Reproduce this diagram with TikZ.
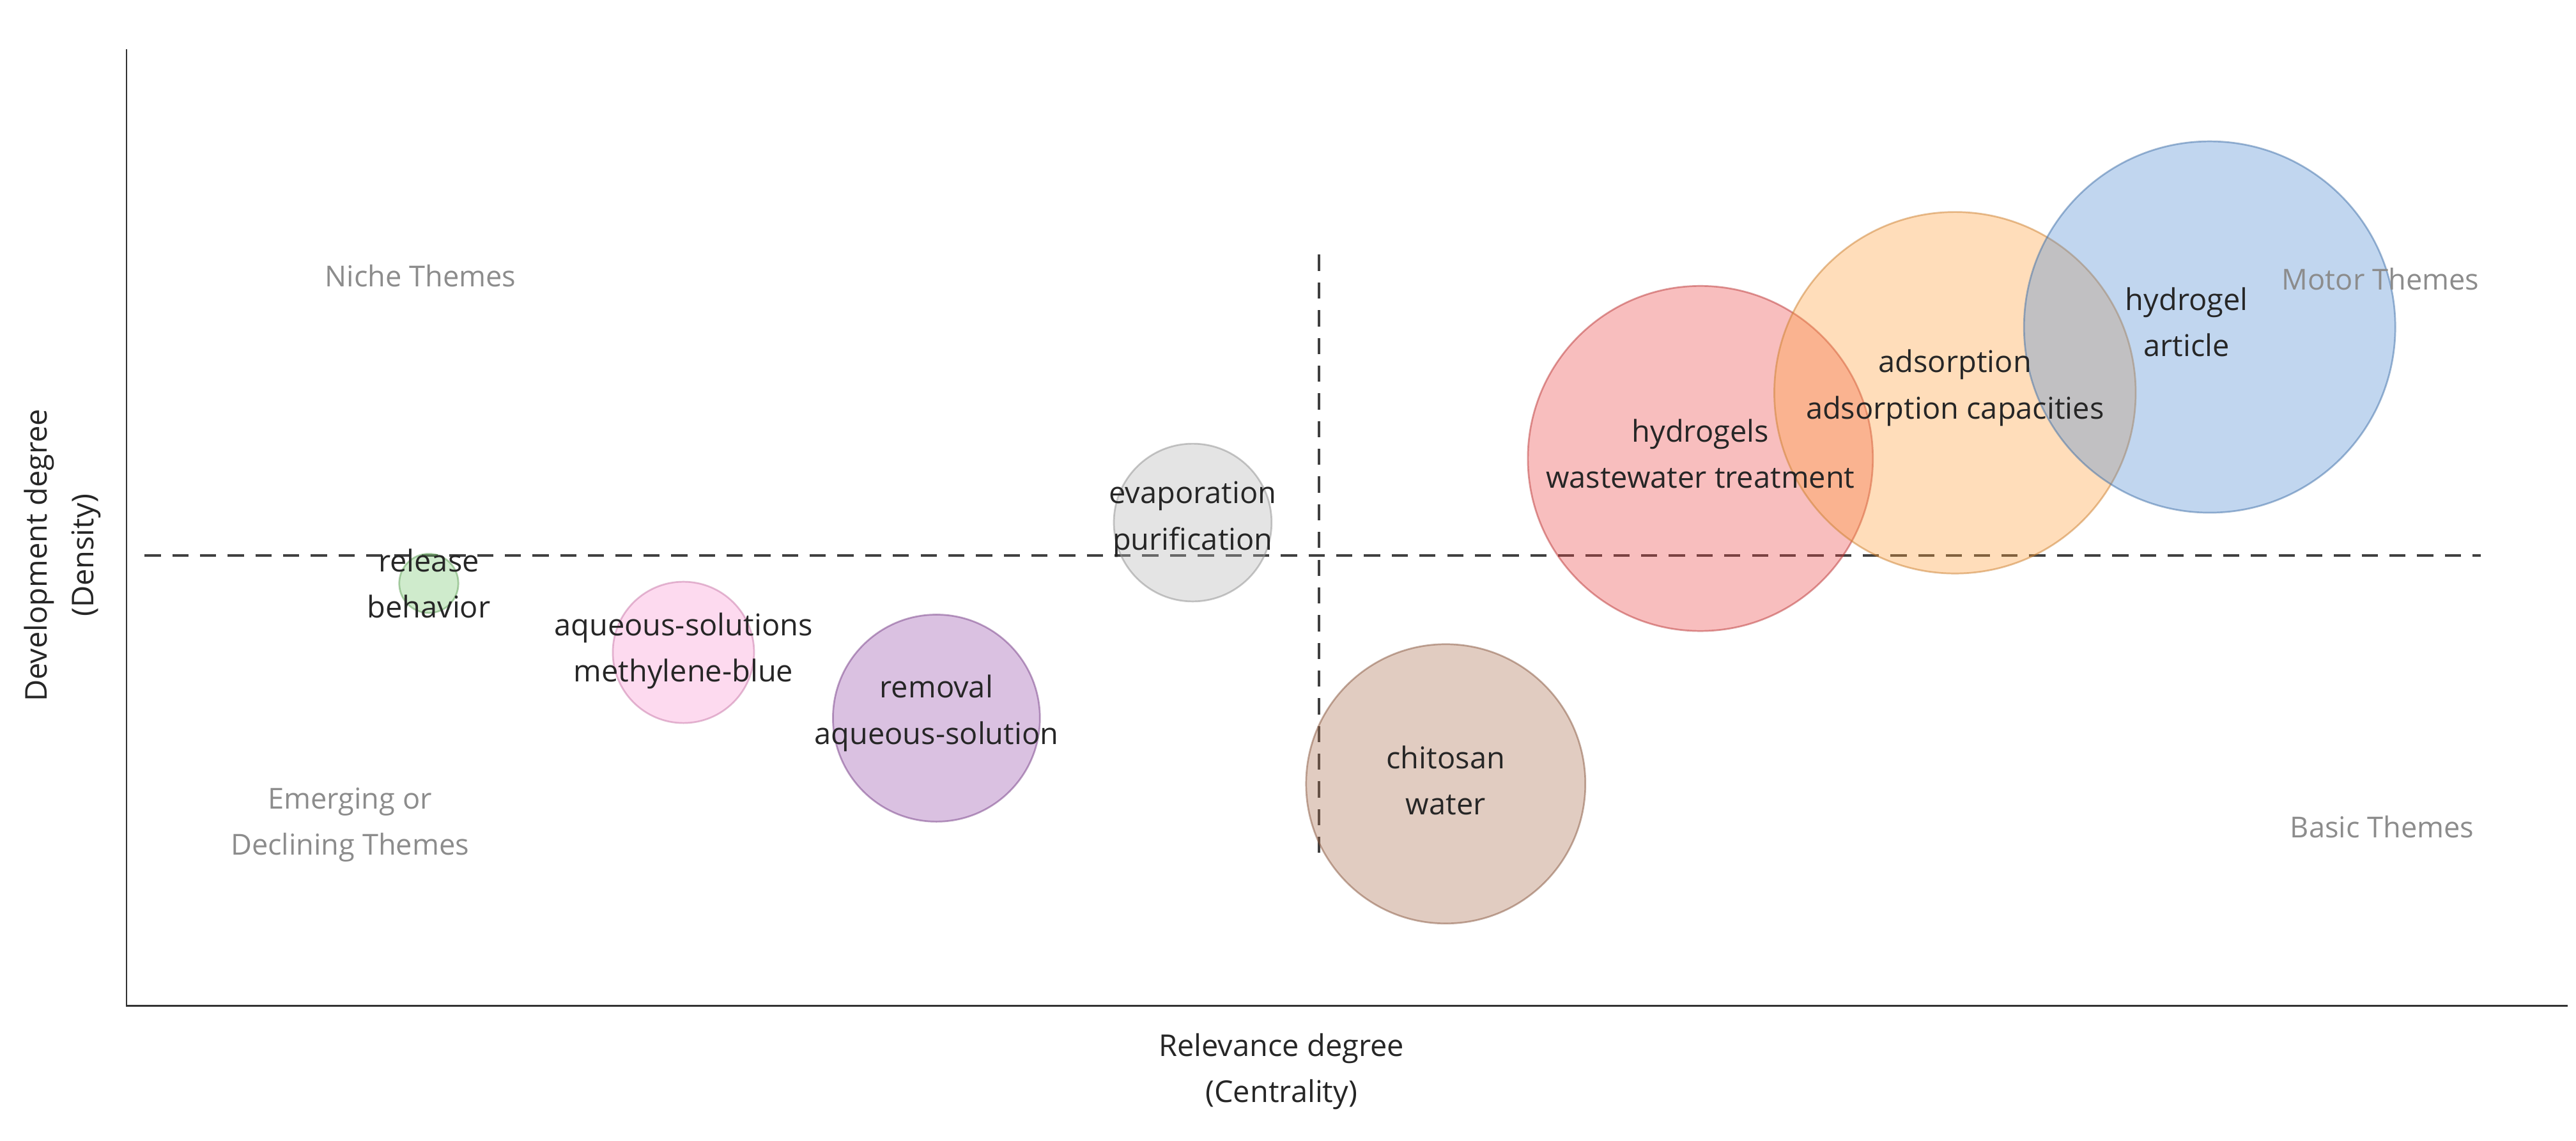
\documentclass[tikz,border=0pt]{standalone}
\usepackage{fontspec}
\setmainfont{Open Sans}
\begin{document}
\begin{tikzpicture}[x=0.05cm,y=-0.05cm,
  bub/.style={circle,draw=#1!80!black,fill=#1,fill opacity=0.35,draw opacity=0.5,line width=1.5pt},
  lab/.style={align=center,font=\fontsize{26}{40}\selectfont,text=black!85},
  quad/.style={align=center,font=\fontsize{25}{40}\selectfont,text=black!45},
  dashln/.style={line width=2.2pt,dash pattern=on 14pt off 10pt,black!75}]
\useasboundingbox (0,0) rectangle (1568,694);
\fill[white] (0,0) rectangle (1568,694);
\definecolor{cg}{RGB}{120,200,110}
\definecolor{cp}{RGB}{250,150,210}
\definecolor{cv}{RGB}{150,80,170}
\definecolor{cgr}{RGB}{180,180,180}
\definecolor{cb}{RGB}{170,110,80}
\definecolor{cr}{RGB}{235,70,70}
\definecolor{co}{RGB}{255,160,60}
\definecolor{cbl}{RGB}{80,140,210}
\coordinate (ytop) at (77,30); \coordinate (orig) at (77,612); \coordinate (xend) at (1563,612);
\draw[line width=1.5pt,black!80] (ytop) -- (orig) -- (xend);
\coordinate (hl) at (88,338); \coordinate (hr) at (1510,338);
\coordinate (vt) at (803,155); \coordinate (vb) at (803,520);
\draw[dashln] (hl) -- (hr);
\draw[dashln] (vt) -- (vb);
\path[bub=cg] (261,355) circle (18);
\path[bub=cp] (416,397) circle (43);
\path[bub=cv] (570,437) circle (63);
\path[bub=cgr] (726,318) circle (48);
\path[bub=cb] (880,477) circle (85);
\path[bub=cr] (1035,279) circle (105);
\path[bub=co] (1190,239) circle (110);
\path[bub=cbl] (1345,199) circle (113);
\node[lab] (l1) at (261,355) {release\\behavior};
\node[lab] (l2) at (416,396) {aqueous-solutions\\methylene-blue};
\node[lab] (l3) at (570,434) {removal\\aqueous-solution};
\node[lab] (l4) at (726,316) {evaporation\\purification};
\node[lab] (l5) at (880,475) {chitosan\\water};
\node[lab] (l6) at (1035,276) {hydrogels\\wastewater treatment};
\node[lab] (l7) at (1190,236) {adsorption\\adsorption capacities};
\node[lab] (l8) at (1331,196) {hydrogel\\article};
\node[quad] (q1) at (256,168) {Niche Themes};
\node[quad] (q2) at (1449,170) {Motor Themes};
\node[quad] (q3) at (213,502) {Emerging or\\Declining Themes};
\node[quad] (q4) at (1450,503) {Basic Themes};
\node[lab] (ax) at (780,652) {Relevance degree\\(Centrality)};
\node[lab,rotate=90] (ay) at (38,338) {Development degree\\(Density)};
\end{tikzpicture}
\end{document}
